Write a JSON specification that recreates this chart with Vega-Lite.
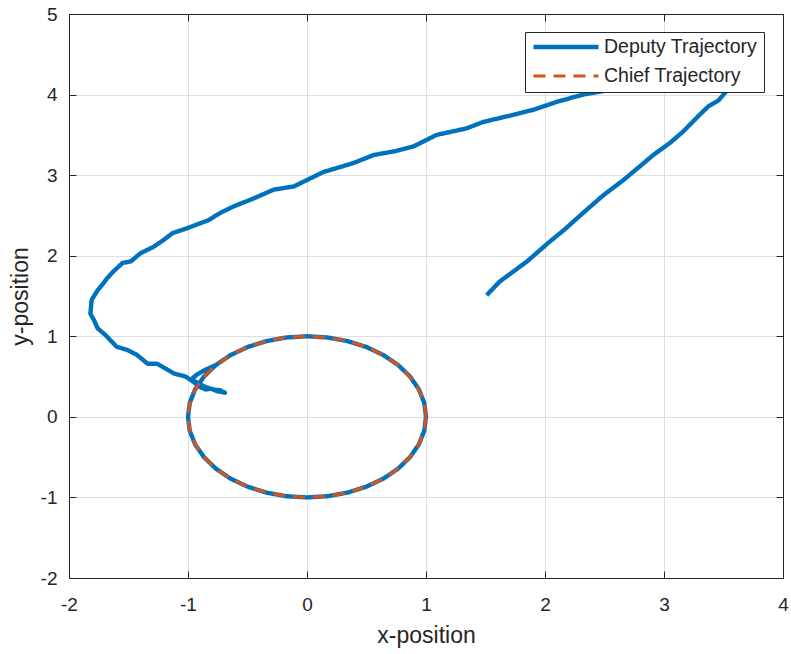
{
  "$schema": "https://vega.github.io/schema/vega-lite/v6.json",
  "width": 714,
  "height": 564,
  "autosize": {"type": "none"},
  "padding": {"left": 69, "top": 14, "right": 8, "bottom": 76},
  "background": "white",
  "config": {
    "font": "Liberation Sans",
    "view": {"stroke": "#262626", "strokeWidth": 1}
  },
  "data": {"values": [
    {"s":"Deputy Trajectory","i":0,"x":1.51,"y":1.51},
    {"s":"Deputy Trajectory","i":1,"x":1.62,"y":1.68},
    {"s":"Deputy Trajectory","i":2,"x":1.85,"y":1.93},
    {"s":"Deputy Trajectory","i":3,"x":2.02,"y":2.15},
    {"s":"Deputy Trajectory","i":4,"x":2.16,"y":2.32},
    {"s":"Deputy Trajectory","i":5,"x":2.35,"y":2.57},
    {"s":"Deputy Trajectory","i":6,"x":2.49,"y":2.75},
    {"s":"Deputy Trajectory","i":7,"x":2.66,"y":2.94},
    {"s":"Deputy Trajectory","i":8,"x":2.83,"y":3.15},
    {"s":"Deputy Trajectory","i":9,"x":2.91,"y":3.25},
    {"s":"Deputy Trajectory","i":10,"x":3.05,"y":3.40},
    {"s":"Deputy Trajectory","i":11,"x":3.16,"y":3.54},
    {"s":"Deputy Trajectory","i":12,"x":3.30,"y":3.75},
    {"s":"Deputy Trajectory","i":13,"x":3.37,"y":3.85},
    {"s":"Deputy Trajectory","i":14,"x":3.46,"y":3.93},
    {"s":"Deputy Trajectory","i":15,"x":3.50,"y":4.00},
    {"s":"Deputy Trajectory","i":16,"x":3.56,"y":4.10},
    {"s":"Deputy Trajectory","i":17,"x":3.62,"y":4.21},
    {"s":"Deputy Trajectory","i":18,"x":3.66,"y":4.31},
    {"s":"Deputy Trajectory","i":19,"x":3.65,"y":4.39},
    {"s":"Deputy Trajectory","i":20,"x":3.57,"y":4.43},
    {"s":"Deputy Trajectory","i":21,"x":3.44,"y":4.41},
    {"s":"Deputy Trajectory","i":22,"x":3.25,"y":4.33},
    {"s":"Deputy Trajectory","i":23,"x":3.05,"y":4.24},
    {"s":"Deputy Trajectory","i":24,"x":2.85,"y":4.15},
    {"s":"Deputy Trajectory","i":25,"x":2.63,"y":4.08},
    {"s":"Deputy Trajectory","i":26,"x":2.32,"y":4.00},
    {"s":"Deputy Trajectory","i":27,"x":2.10,"y":3.91},
    {"s":"Deputy Trajectory","i":28,"x":1.90,"y":3.81},
    {"s":"Deputy Trajectory","i":29,"x":1.71,"y":3.74},
    {"s":"Deputy Trajectory","i":30,"x":1.48,"y":3.66},
    {"s":"Deputy Trajectory","i":31,"x":1.34,"y":3.58},
    {"s":"Deputy Trajectory","i":32,"x":1.09,"y":3.50},
    {"s":"Deputy Trajectory","i":33,"x":0.90,"y":3.36},
    {"s":"Deputy Trajectory","i":34,"x":0.75,"y":3.30},
    {"s":"Deputy Trajectory","i":35,"x":0.56,"y":3.25},
    {"s":"Deputy Trajectory","i":36,"x":0.39,"y":3.15},
    {"s":"Deputy Trajectory","i":37,"x":0.14,"y":3.04},
    {"s":"Deputy Trajectory","i":38,"x":0.00,"y":2.94},
    {"s":"Deputy Trajectory","i":39,"x":-0.11,"y":2.86},
    {"s":"Deputy Trajectory","i":40,"x":-0.28,"y":2.82},
    {"s":"Deputy Trajectory","i":41,"x":-0.45,"y":2.71},
    {"s":"Deputy Trajectory","i":42,"x":-0.62,"y":2.61},
    {"s":"Deputy Trajectory","i":43,"x":-0.73,"y":2.53},
    {"s":"Deputy Trajectory","i":44,"x":-0.83,"y":2.44},
    {"s":"Deputy Trajectory","i":45,"x":-1.01,"y":2.34},
    {"s":"Deputy Trajectory","i":46,"x":-1.13,"y":2.28},
    {"s":"Deputy Trajectory","i":47,"x":-1.21,"y":2.19},
    {"s":"Deputy Trajectory","i":48,"x":-1.29,"y":2.11},
    {"s":"Deputy Trajectory","i":49,"x":-1.40,"y":2.03},
    {"s":"Deputy Trajectory","i":50,"x":-1.48,"y":1.93},
    {"s":"Deputy Trajectory","i":51,"x":-1.55,"y":1.91},
    {"s":"Deputy Trajectory","i":52,"x":-1.63,"y":1.80},
    {"s":"Deputy Trajectory","i":53,"x":-1.68,"y":1.72},
    {"s":"Deputy Trajectory","i":54,"x":-1.72,"y":1.64},
    {"s":"Deputy Trajectory","i":55,"x":-1.76,"y":1.57},
    {"s":"Deputy Trajectory","i":56,"x":-1.81,"y":1.45},
    {"s":"Deputy Trajectory","i":57,"x":-1.82,"y":1.28},
    {"s":"Deputy Trajectory","i":58,"x":-1.79,"y":1.20},
    {"s":"Deputy Trajectory","i":59,"x":-1.76,"y":1.10},
    {"s":"Deputy Trajectory","i":60,"x":-1.69,"y":1.01},
    {"s":"Deputy Trajectory","i":61,"x":-1.60,"y":0.87},
    {"s":"Deputy Trajectory","i":62,"x":-1.51,"y":0.83},
    {"s":"Deputy Trajectory","i":63,"x":-1.43,"y":0.77},
    {"s":"Deputy Trajectory","i":64,"x":-1.34,"y":0.66},
    {"s":"Deputy Trajectory","i":65,"x":-1.26,"y":0.66},
    {"s":"Deputy Trajectory","i":66,"x":-1.12,"y":0.54},
    {"s":"Deputy Trajectory","i":67,"x":-1.02,"y":0.50},
    {"s":"Deputy Trajectory","i":68,"x":-0.95,"y":0.43},
    {"s":"Deputy Trajectory","i":69,"x":-0.90,"y":0.37},
    {"s":"Deputy Trajectory","i":70,"x":-0.85,"y":0.34},
    {"s":"Deputy Trajectory","i":71,"x":-0.80,"y":0.35},
    {"s":"Deputy Trajectory","i":72,"x":-0.76,"y":0.32},
    {"s":"Deputy Trajectory","i":73,"x":-0.72,"y":0.31},
    {"s":"Deputy Trajectory","i":74,"x":-0.69,"y":0.30},
    {"s":"Deputy Trajectory","i":75,"x":-0.73,"y":0.33},
    {"s":"Deputy Trajectory","i":76,"x":-0.79,"y":0.34},
    {"s":"Deputy Trajectory","i":77,"x":-0.85,"y":0.37},
    {"s":"Deputy Trajectory","i":78,"x":-0.91,"y":0.41},
    {"s":"Deputy Trajectory","i":79,"x":-0.97,"y":0.47},
    {"s":"Deputy Trajectory","i":80,"x":-0.92,"y":0.53},
    {"s":"Deputy Trajectory","i":81,"x":-0.86,"y":0.58},
    {"s":"Deputy Trajectory","i":82,"x":-0.766,"y":0.643},
    {"s":"Deputy Trajectory","i":83,"x":-0.643,"y":0.766},
    {"s":"Deputy Trajectory","i":84,"x":-0.5,"y":0.866},
    {"s":"Deputy Trajectory","i":85,"x":-0.342,"y":0.94},
    {"s":"Deputy Trajectory","i":86,"x":-0.174,"y":0.985},
    {"s":"Deputy Trajectory","i":87,"x":0,"y":1},
    {"s":"Deputy Trajectory","i":88,"x":0.174,"y":0.985},
    {"s":"Deputy Trajectory","i":89,"x":0.342,"y":0.94},
    {"s":"Deputy Trajectory","i":90,"x":0.5,"y":0.866},
    {"s":"Deputy Trajectory","i":91,"x":0.643,"y":0.766},
    {"s":"Deputy Trajectory","i":92,"x":0.766,"y":0.643},
    {"s":"Deputy Trajectory","i":93,"x":0.866,"y":0.5},
    {"s":"Deputy Trajectory","i":94,"x":0.94,"y":0.342},
    {"s":"Deputy Trajectory","i":95,"x":0.985,"y":0.174},
    {"s":"Deputy Trajectory","i":96,"x":1,"y":0},
    {"s":"Deputy Trajectory","i":97,"x":0.985,"y":-0.174},
    {"s":"Deputy Trajectory","i":98,"x":0.94,"y":-0.342},
    {"s":"Deputy Trajectory","i":99,"x":0.866,"y":-0.5},
    {"s":"Deputy Trajectory","i":100,"x":0.766,"y":-0.643},
    {"s":"Deputy Trajectory","i":101,"x":0.643,"y":-0.766},
    {"s":"Deputy Trajectory","i":102,"x":0.5,"y":-0.866},
    {"s":"Deputy Trajectory","i":103,"x":0.342,"y":-0.94},
    {"s":"Deputy Trajectory","i":104,"x":0.174,"y":-0.985},
    {"s":"Deputy Trajectory","i":105,"x":0,"y":-1},
    {"s":"Deputy Trajectory","i":106,"x":-0.174,"y":-0.985},
    {"s":"Deputy Trajectory","i":107,"x":-0.342,"y":-0.94},
    {"s":"Deputy Trajectory","i":108,"x":-0.5,"y":-0.866},
    {"s":"Deputy Trajectory","i":109,"x":-0.643,"y":-0.766},
    {"s":"Deputy Trajectory","i":110,"x":-0.766,"y":-0.643},
    {"s":"Deputy Trajectory","i":111,"x":-0.866,"y":-0.5},
    {"s":"Deputy Trajectory","i":112,"x":-0.94,"y":-0.342},
    {"s":"Deputy Trajectory","i":113,"x":-0.985,"y":-0.174},
    {"s":"Deputy Trajectory","i":114,"x":-1,"y":0},
    {"s":"Deputy Trajectory","i":115,"x":-0.985,"y":0.174},
    {"s":"Deputy Trajectory","i":116,"x":-0.94,"y":0.342},
    {"s":"Deputy Trajectory","i":117,"x":-0.866,"y":0.5},
    {"s":"Deputy Trajectory","i":118,"x":-0.766,"y":0.643},
    {"s":"Chief Trajectory","i":0,"x":1,"y":0},
    {"s":"Chief Trajectory","i":1,"x":0.985,"y":0.174},
    {"s":"Chief Trajectory","i":2,"x":0.94,"y":0.342},
    {"s":"Chief Trajectory","i":3,"x":0.866,"y":0.5},
    {"s":"Chief Trajectory","i":4,"x":0.766,"y":0.643},
    {"s":"Chief Trajectory","i":5,"x":0.643,"y":0.766},
    {"s":"Chief Trajectory","i":6,"x":0.5,"y":0.866},
    {"s":"Chief Trajectory","i":7,"x":0.342,"y":0.94},
    {"s":"Chief Trajectory","i":8,"x":0.174,"y":0.985},
    {"s":"Chief Trajectory","i":9,"x":0,"y":1},
    {"s":"Chief Trajectory","i":10,"x":-0.174,"y":0.985},
    {"s":"Chief Trajectory","i":11,"x":-0.342,"y":0.94},
    {"s":"Chief Trajectory","i":12,"x":-0.5,"y":0.866},
    {"s":"Chief Trajectory","i":13,"x":-0.643,"y":0.766},
    {"s":"Chief Trajectory","i":14,"x":-0.766,"y":0.643},
    {"s":"Chief Trajectory","i":15,"x":-0.866,"y":0.5},
    {"s":"Chief Trajectory","i":16,"x":-0.94,"y":0.342},
    {"s":"Chief Trajectory","i":17,"x":-0.985,"y":0.174},
    {"s":"Chief Trajectory","i":18,"x":-1,"y":0},
    {"s":"Chief Trajectory","i":19,"x":-0.985,"y":-0.174},
    {"s":"Chief Trajectory","i":20,"x":-0.94,"y":-0.342},
    {"s":"Chief Trajectory","i":21,"x":-0.866,"y":-0.5},
    {"s":"Chief Trajectory","i":22,"x":-0.766,"y":-0.643},
    {"s":"Chief Trajectory","i":23,"x":-0.643,"y":-0.766},
    {"s":"Chief Trajectory","i":24,"x":-0.5,"y":-0.866},
    {"s":"Chief Trajectory","i":25,"x":-0.342,"y":-0.94},
    {"s":"Chief Trajectory","i":26,"x":-0.174,"y":-0.985},
    {"s":"Chief Trajectory","i":27,"x":0,"y":-1},
    {"s":"Chief Trajectory","i":28,"x":0.174,"y":-0.985},
    {"s":"Chief Trajectory","i":29,"x":0.342,"y":-0.94},
    {"s":"Chief Trajectory","i":30,"x":0.5,"y":-0.866},
    {"s":"Chief Trajectory","i":31,"x":0.643,"y":-0.766},
    {"s":"Chief Trajectory","i":32,"x":0.766,"y":-0.643},
    {"s":"Chief Trajectory","i":33,"x":0.866,"y":-0.5},
    {"s":"Chief Trajectory","i":34,"x":0.94,"y":-0.342},
    {"s":"Chief Trajectory","i":35,"x":0.985,"y":-0.174},
    {"s":"Chief Trajectory","i":36,"x":1,"y":0}
  ]},
  "layer": [
    {
      "mark": {"type": "line", "strokeJoin": "round", "strokeCap": "butt"},
      "encoding": {
        "x": {"field": "x", "type": "quantitative",
          "scale": {"domain": [-2, 4], "nice": false, "zero": false},
          "axis": {"title": "x-position", "values": [-2,-1,0,1,2,3,4], "tickSize": -7, "labelPadding": 24,
            "labelExpr": "'' + datum.value",
            "labelFontSize": 19, "titleFontSize": 23, "titleFontWeight": "normal", "titlePadding": 10,
            "labelFlush": false, "labelOverlap": false, "grid": true, "gridColor": "#dfdfdf",
            "domainColor": "#262626", "tickColor": "#262626", "labelColor": "#262626", "titleColor": "#262626"}},
        "y": {"field": "y", "type": "quantitative",
          "scale": {"domain": [-2, 5], "nice": false, "zero": false},
          "axis": {"title": "y-position", "values": [-2,-1,0,1,2,3,4,5], "tickSize": -7, "labelPadding": 19,
            "labelExpr": "'' + datum.value",
            "labelFontSize": 19, "titleFontSize": 23, "titleFontWeight": "normal", "titlePadding": 8,
            "labelFlush": false, "labelOverlap": false, "grid": true, "gridColor": "#dfdfdf",
            "domainColor": "#262626", "tickColor": "#262626", "labelColor": "#262626", "titleColor": "#262626"}},
        "color": {"field": "s", "type": "nominal",
          "scale": {"domain": ["Deputy Trajectory", "Chief Trajectory"], "range": ["#0072BD", "#D95319"]},
          "legend": {"orient": "none", "legendX": 456, "legendY": 18, "title": null, "fillColor": "white",
            "strokeColor": "#262626", "padding": 6, "symbolType": "stroke", "symbolSize": 4225, "clipHeight": 18,
            "rowPadding": 9, "labelFontSize": 19.5, "labelOffset": 3, "labelColor": "#262626", "labelLimit": 400}},
        "strokeDash": {"field": "s", "type": "nominal",
          "scale": {"domain": ["Deputy Trajectory", "Chief Trajectory"], "range": [[1, 0], [12, 8]]}},
        "strokeWidth": {"field": "s", "type": "nominal",
          "scale": {"domain": ["Deputy Trajectory", "Chief Trajectory"], "range": [4.4, 3]}},
        "order": {"field": "i", "type": "quantitative"}
      }
    },
    {
      "mark": {"type": "point", "opacity": 0},
      "encoding": {
        "x": {"field": "x", "type": "quantitative",
          "axis": {"orient": "top", "title": null, "labels": false, "grid": false, "values": [-2,-1,0,1,2,3,4],
            "tickSize": -7, "domainColor": "#262626", "tickColor": "#262626"}},
        "y": {"field": "y", "type": "quantitative",
          "axis": {"orient": "right", "title": null, "labels": false, "grid": false, "values": [-2,-1,0,1,2,3,4,5],
            "tickSize": -7, "domainColor": "#262626", "tickColor": "#262626"}}
      }
    }
  ],
  "resolve": {"axis": {"x": "independent", "y": "independent"}}
}
